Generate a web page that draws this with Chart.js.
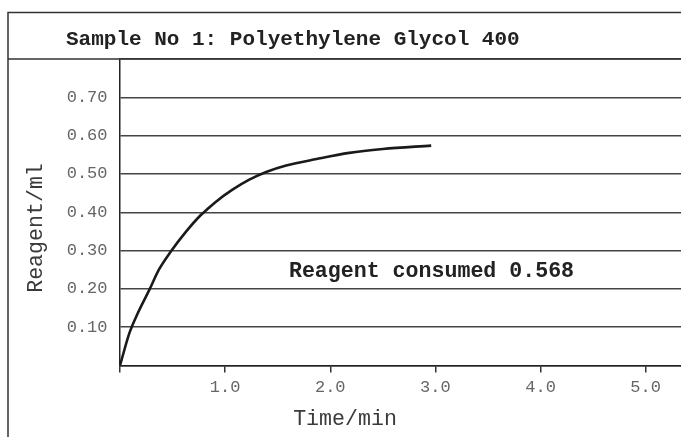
<!DOCTYPE html>
<html>
<head>
<meta charset="utf-8">
<script src="https://cdn.jsdelivr.net/npm/chart.js@4/dist/chart.umd.min.js"></script>
<style>
html,body{margin:0;padding:0;background:#fff;}
#wrap{width:681px;height:437px;position:relative;}
</style>
</head>
<body>
<div id="wrap"><canvas id="c" width="681" height="437"></canvas></div>
<script>
// ---- data ----
const chartTitle = 'Sample No 1: Polyethylene Glycol 400';
const xAxisTitle = 'Time/min';
const yAxisTitle = 'Reagent/ml';
const annotationText = 'Reagent consumed 0.568';

const timeMin   = [0, 0.09, 0.17, 0.28, 0.37, 0.485, 0.63, 0.755, 0.82, 0.91, 1.07, 1.23, 1.39, 1.58, 1.87, 2.18, 2.50, 2.96];
const reagentMl = [0, 0.085, 0.137, 0.198, 0.25, 0.298, 0.35, 0.389, 0.405, 0.427, 0.459, 0.485, 0.505, 0.522, 0.539, 0.555, 0.565, 0.574];

const xTickValues = [0, 1, 2, 3, 4, 5];
const xTickLabels = ['', '1.0', '2.0', '3.0', '4.0', '5.0'];
const yTickValues = [0, 0.1, 0.2, 0.3, 0.4, 0.5, 0.6, 0.7, 0.8];
const yTickLabels = ['', '0.10', '0.20', '0.30', '0.40', '0.50', '0.60', '0.70', ''];

const points = timeMin.map((t, i) => ({x: t, y: reagentMl[i]}));
const MONO = '"Liberation Mono", "Courier New", monospace';

const decor = {
  id: 'decor',
  afterDraw(chart) {
    const ctx = chart.ctx;
    ctx.save();
    // frame
    ctx.strokeStyle = '#333';
    ctx.lineWidth = 1.5;
    ctx.beginPath();
    ctx.moveTo(8, 437); ctx.lineTo(8, 12.5); ctx.lineTo(681, 12.5);
    ctx.moveTo(8, 59); ctx.lineTo(681, 59);
    ctx.stroke();
    // title
    ctx.fillStyle = '#222';
    ctx.font = 'bold 21px ' + MONO;
    ctx.textAlign = 'left';
    ctx.textBaseline = 'alphabetic';
    ctx.fillText(chartTitle, 66, 45);
    // annotation
    ctx.font = 'bold 21.6px ' + MONO;
    ctx.textAlign = 'center';
    ctx.fillText(annotationText, 431.5, 277);
    // axis titles
    ctx.fillStyle = '#3a3a3a';
    ctx.font = '21.6px ' + MONO;
    ctx.fillText(xAxisTitle, 345, 425);
    ctx.translate(41.5, 228);
    ctx.rotate(-Math.PI / 2);
    ctx.fillText(yAxisTitle, 0, 0);
    ctx.restore();
  }
};

new Chart(document.getElementById('c'), {
  type: 'scatter',
  data: {
    datasets: [{
      data: points,
      showLine: true,
      borderColor: '#1a1a1a',
      borderWidth: 2.6,
      pointRadius: 0,
      cubicInterpolationMode: 'monotone',
      fill: false
    }]
  },
  options: {
    responsive: false,
    animation: false,
    devicePixelRatio: 1,
    layout: {padding: {top: 59, left: 0, right: 0, bottom: 0}},
    plugins: {legend: {display: false}, tooltip: {enabled: false}, title: {display: false}},
    scales: {
      x: {
        type: 'linear',
        min: 0,
        max: 5.336,
        afterBuildTicks: s => { s.ticks = xTickValues.map(v => ({value: v})); },
        afterFit: s => { s.height = 71.5; },
        ticks: {
          callback: (v, i) => xTickLabels[i],
          color: '#666',
          font: {family: MONO, size: 17},
          padding: 5,
          maxRotation: 0,
          autoSkip: false
        },
        grid: {drawOnChartArea: false, drawTicks: true, tickLength: 7, color: '#333', lineWidth: 1.5},
        border: {display: true, color: '#222', width: 1.5}
      },
      y: {
        type: 'linear',
        min: 0,
        max: 0.8,
        afterBuildTicks: s => { s.ticks = yTickValues.map(v => ({value: v})); },
        afterFit: s => { s.width = 120; },
        ticks: {
          callback: (v, i) => yTickLabels[i],
          color: '#666',
          font: {family: MONO, size: 17},
          padding: 12.5,
          autoSkip: false
        },
        grid: {drawTicks: false, color: '#444', lineWidth: 1.5},
        border: {display: true, color: '#222', width: 1.5}
      }
    }
  },
  plugins: [decor]
});
</script>
</body>
</html>
